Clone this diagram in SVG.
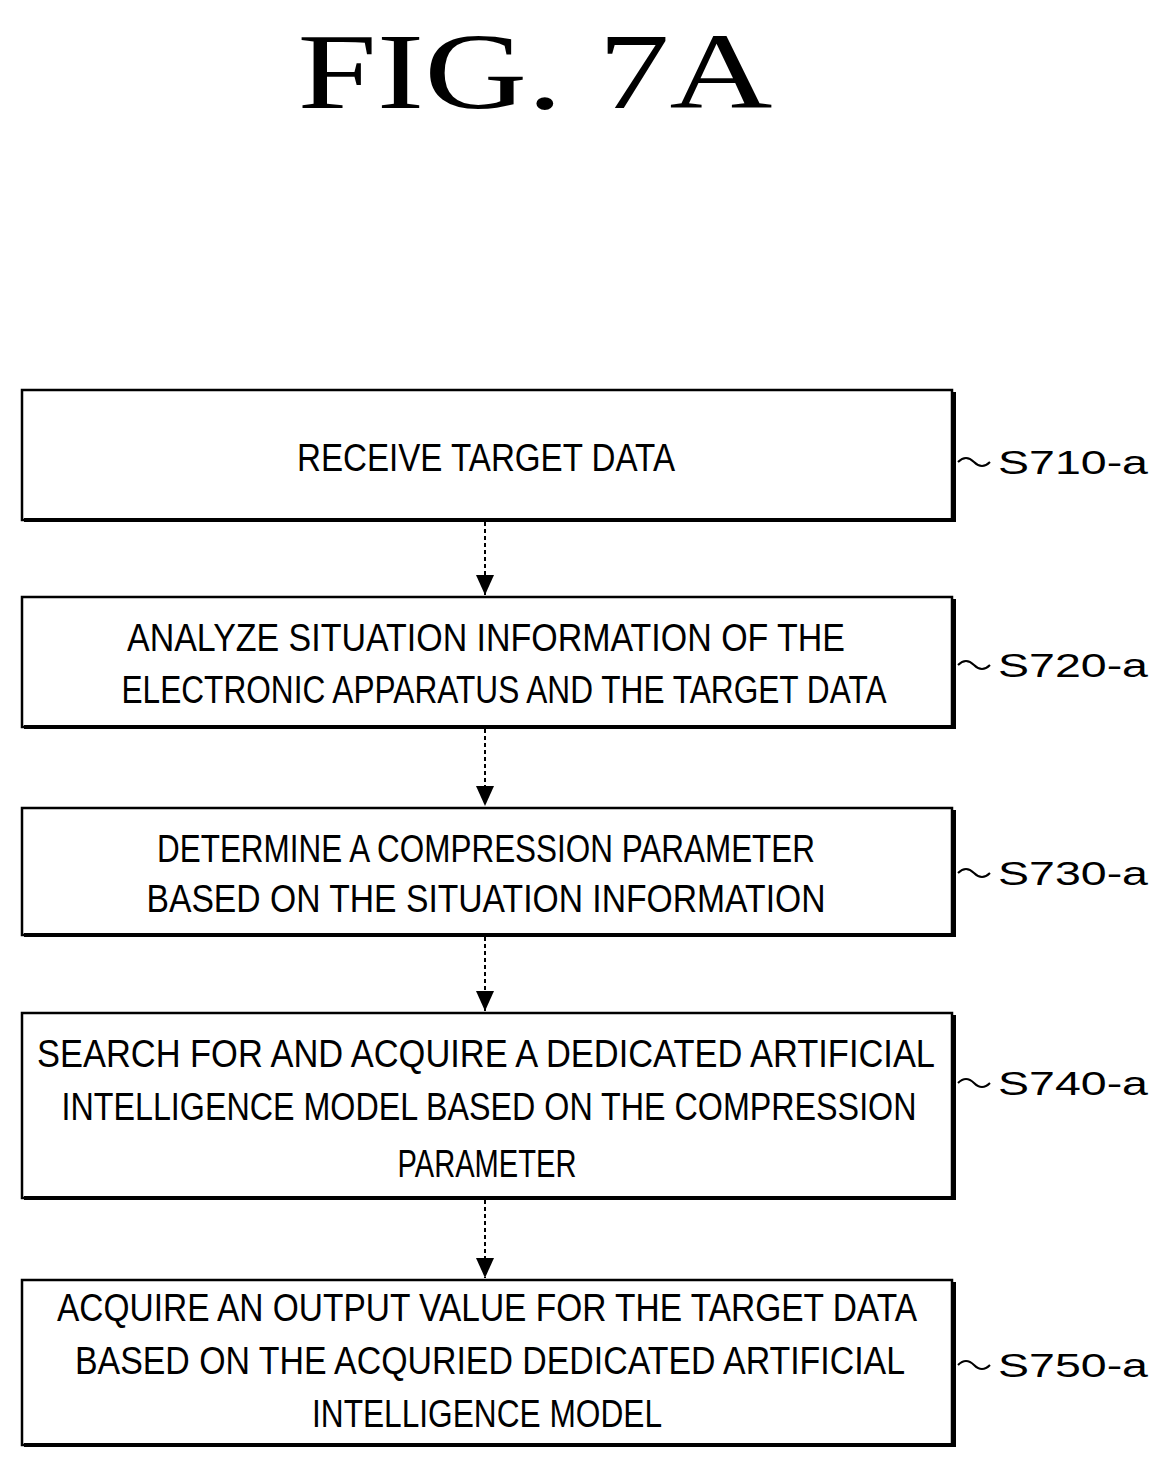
<svg xmlns="http://www.w3.org/2000/svg" width="1171" height="1470" viewBox="0 0 1171 1470">
<defs>
<style>
.box{fill:#fff;stroke:#000;stroke-width:2.5}
.sh{fill:none;stroke:#000;stroke-width:4}
.t{font-family:"Liberation Sans",Arial,sans-serif;font-size:38px;text-anchor:middle;fill:#000}
.lab{font-family:"Liberation Sans",Arial,sans-serif;font-size:34px;fill:#000}
.c{fill:none;stroke:#000;stroke-width:2}
</style>
<marker id="ah" viewBox="0 0 20 20" markerWidth="20" markerHeight="20" refX="20" refY="10" orient="auto" markerUnits="userSpaceOnUse"><path d="M0,1 L20,10 L0,19 z"/></marker>
</defs>
<rect width="1171" height="1470" fill="#fff"/>
<text x="535" y="108" font-family="Liberation Serif,serif" font-size="108" text-anchor="middle" textLength="475" lengthAdjust="spacingAndGlyphs">FIG. 7A</text>
<g id="n1"><rect class="box" x="22" y="390" width="930" height="130"/><path class="sh" d="M24,520 H954 V392"/><text class="t" x="486" y="471" textLength="378" lengthAdjust="spacingAndGlyphs">RECEIVE TARGET DATA</text></g>
<g id="n2"><rect class="box" x="22" y="597" width="930" height="130"/><path class="sh" d="M24,727 H954 V599"/><text class="t" x="486" y="651" textLength="718" lengthAdjust="spacingAndGlyphs">ANALYZE SITUATION INFORMATION OF THE</text><text class="t" x="504" y="703" textLength="765" lengthAdjust="spacingAndGlyphs">ELECTRONIC APPARATUS AND THE TARGET DATA</text></g>
<g id="n3"><rect class="box" x="22" y="808" width="930" height="127"/><path class="sh" d="M24,935 H954 V810"/><text class="t" x="486" y="862" textLength="658" lengthAdjust="spacingAndGlyphs">DETERMINE A COMPRESSION PARAMETER</text><text class="t" x="486" y="912" textLength="679" lengthAdjust="spacingAndGlyphs">BASED ON THE SITUATION INFORMATION</text></g>
<g id="n4"><rect class="box" x="22" y="1013" width="930" height="185"/><path class="sh" d="M24,1198 H954 V1015"/><text class="t" x="486" y="1067" textLength="898" lengthAdjust="spacingAndGlyphs">SEARCH FOR AND ACQUIRE A DEDICATED ARTIFICIAL</text><text class="t" x="489" y="1120" textLength="855" lengthAdjust="spacingAndGlyphs">INTELLIGENCE MODEL BASED ON THE COMPRESSION</text><text class="t" x="487" y="1177" textLength="179" lengthAdjust="spacingAndGlyphs">PARAMETER</text></g>
<g id="n5"><rect class="box" x="22" y="1280" width="930" height="165"/><path class="sh" d="M24,1445 H954 V1282"/><text class="t" x="487" y="1321" textLength="860" lengthAdjust="spacingAndGlyphs">ACQUIRE AN OUTPUT VALUE FOR THE TARGET DATA</text><text class="t" x="490" y="1374" textLength="830" lengthAdjust="spacingAndGlyphs">BASED ON THE ACQURIED DEDICATED ARTIFICIAL</text><text class="t" x="487" y="1427" textLength="350" lengthAdjust="spacingAndGlyphs">INTELLIGENCE MODEL</text></g>
<g id="connectors">
<line class="c" x1="485" y1="522" x2="485" y2="595" stroke-dasharray="4,3" marker-end="url(#ah)"/>
<line class="c" x1="485" y1="729" x2="485" y2="806" stroke-dasharray="4,3" marker-end="url(#ah)"/>
<line class="c" x1="485" y1="937" x2="485" y2="1011" stroke-dasharray="4,3" marker-end="url(#ah)"/>
<line class="c" x1="485" y1="1200" x2="485" y2="1278" stroke-dasharray="4,3" marker-end="url(#ah)"/>
<path class="c" d="M958,462 q8,-8 16,0 t16,0"/>
<path class="c" d="M958,665 q8,-8 16,0 t16,0"/>
<path class="c" d="M958,873 q8,-8 16,0 t16,0"/>
<path class="c" d="M958,1083 q8,-8 16,0 t16,0"/>
<path class="c" d="M958,1365 q8,-8 16,0 t16,0"/>
</g>
<g id="labels">
<text class="lab" x="998" y="474" textLength="150" lengthAdjust="spacingAndGlyphs">S710-a</text>
<text class="lab" x="998" y="677" textLength="150" lengthAdjust="spacingAndGlyphs">S720-a</text>
<text class="lab" x="998" y="885" textLength="150" lengthAdjust="spacingAndGlyphs">S730-a</text>
<text class="lab" x="998" y="1095" textLength="150" lengthAdjust="spacingAndGlyphs">S740-a</text>
<text class="lab" x="998" y="1377" textLength="150" lengthAdjust="spacingAndGlyphs">S750-a</text>
</g>
</svg>
